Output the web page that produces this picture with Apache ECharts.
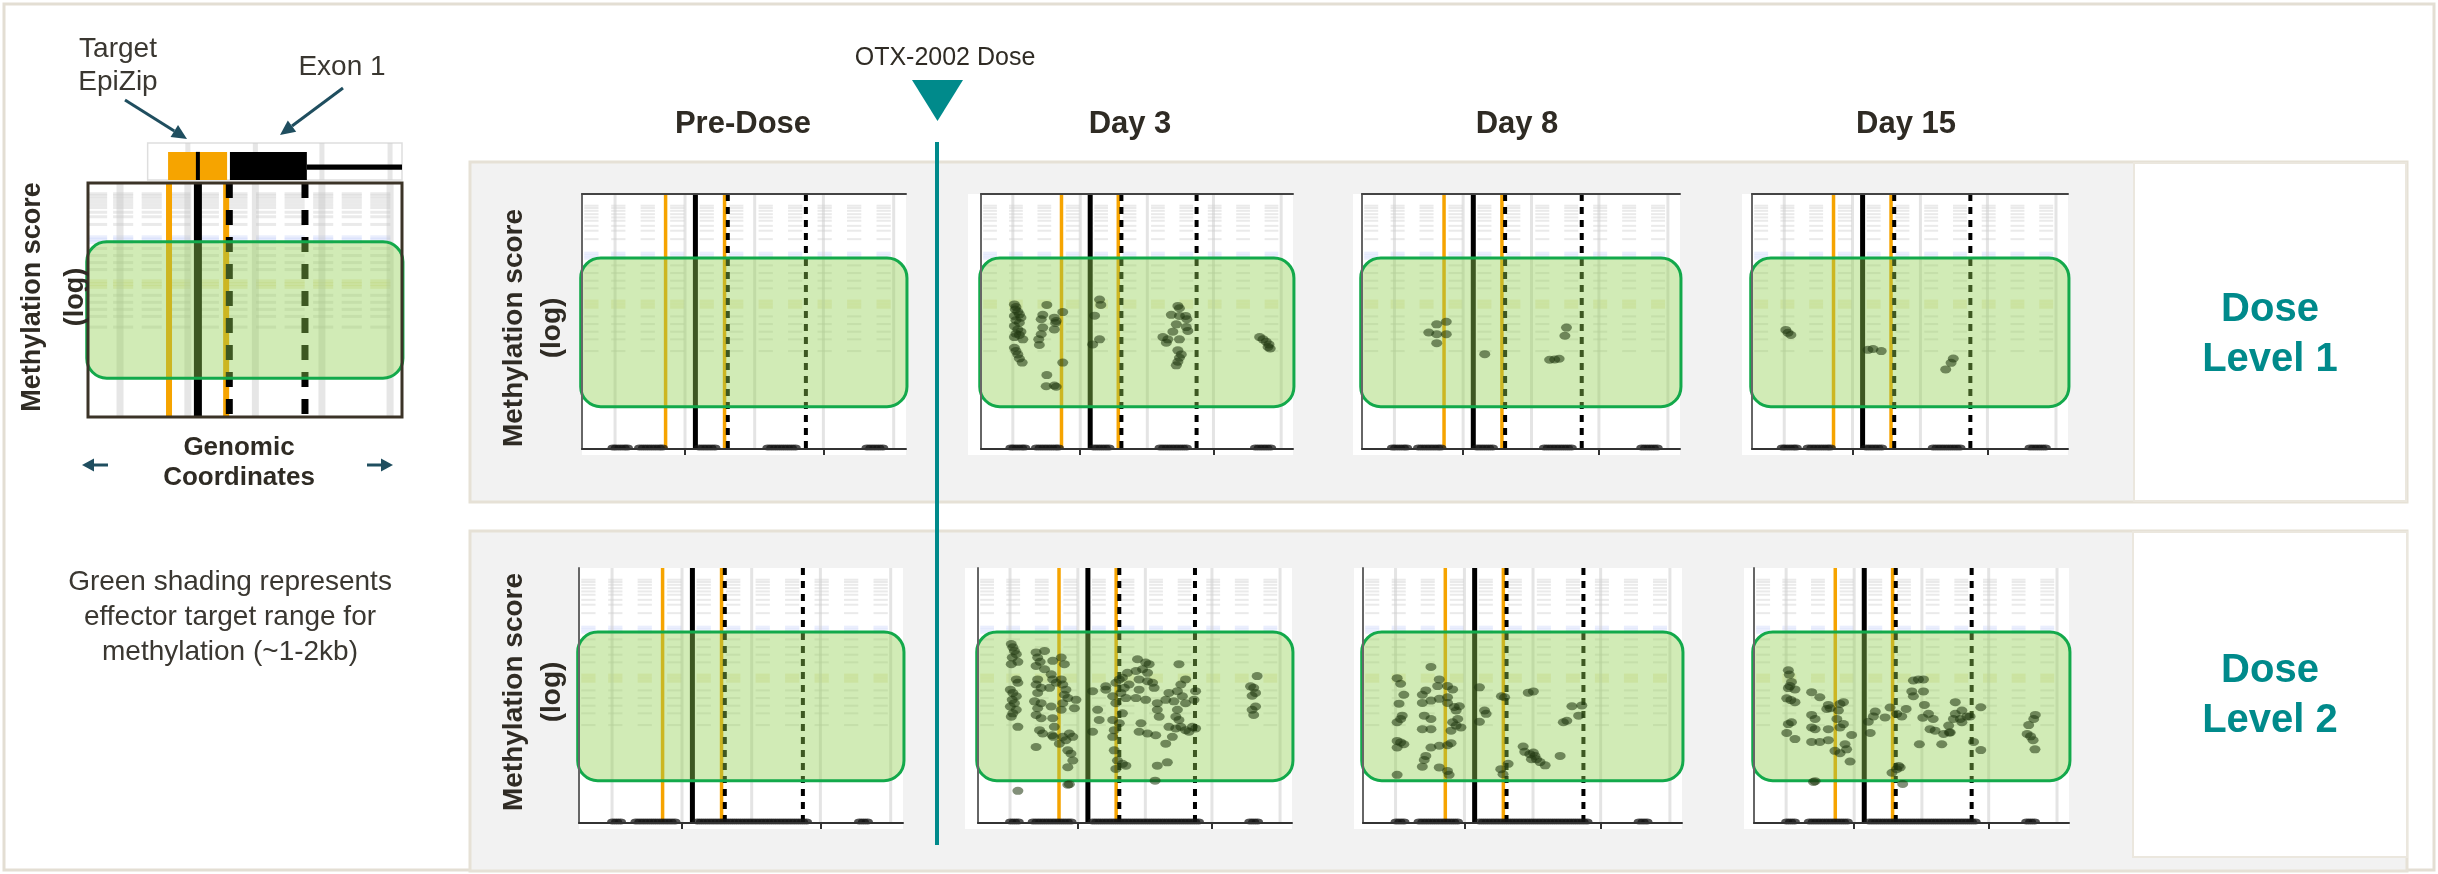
<!DOCTYPE html>
<html>
<head>
<meta charset="utf-8">
<script src="https://cdn.jsdelivr.net/npm/echarts@6/dist/echarts.min.js"></script>
<style>
  html, body { margin: 0; padding: 0; background: #fff; }
  #main { width: 2438px; height: 874px; }
</style>
</head>
<body>
<div id="main"></div>
<script>
// ---------------- data ----------------
const timepoints = ['Pre-Dose', 'Day 3', 'Day 8', 'Day 15'];
const doseLevels = ['Dose\nLevel 1', 'Dose\nLevel 2'];

// genomic window is expressed on a 0–100 scale
const gridlineX = [10.2, 31.8, 53.3, 74.5, 96.2];
const tickX = [31.8, 74.5];
const featureX = [25.8, 35.0, 44.0, 45.0, 69.1];
const featureKind = ['target', 'tss', 'target', 'exon', 'exon'];

// faded browser-track texture behind each panel (column centres, row levels)
const textureCols = [2.9, 11.2, 20.3, 29.4, 38.5, 47.6, 56.7, 65.8, 74.9, 84.0, 93.1];
const textureGrayRows = [95.4, 94.5, 93.4, 92.1, 90.8, 89.5, 87.5, 85.6, 82.3, 72.0, 69.0, 66.0, 63.0, 52.0, 49.0, 46.0, 43.0, 38.4];
const textureBlueRows = [76.8, 75.8, 74.8];
const textureTanRows = [58.0, 56.8, 55.6];

// gene track (schematic)
const trackSpan = [19, 100];
const targetBlock = [25.5, 44.3];
const exonBlock = [45.2, 69.7];
const intronSpan = [69.7, 100];
const tssX = 35.0;

// effector target range (shaded band), x0, y0, x1, y1
const shadeBand = [-0.4, 16.6, 100.3, 74.9];

// CpG sites with ~zero methylation (sit on the baseline)
const baseRow1 = [9.6, 10.6, 11.8, 13.0, 14.0, 17.8, 19.0, 20.2, 21.4, 22.6, 23.8, 24.8,
  36.2, 37.4, 38.6, 39.8, 41.0, 57.4, 58.6, 59.8, 61.0, 62.2, 63.4, 64.6, 65.8,
  88.0, 89.2, 90.4, 91.6, 92.8];
const baseRow2 = [10.4, 11.6, 12.8, 17.6, 18.8, 20.0, 21.2, 22.4, 23.6, 24.8, 26.0, 27.2, 28.4, 29.6,
  36.6, 37.8, 39.0, 40.2, 41.4, 42.6, 43.8, 45.0, 46.2, 47.4, 48.6, 49.8, 51.0, 52.2, 53.4,
  54.6, 55.8, 57.0, 58.2, 59.4, 60.6, 61.8, 63.0, 64.2, 65.4, 66.6, 67.8, 69.0, 70.2,
  86.6, 87.8, 89.0];

// methylation scores (log scale, 0–100) per CpG position
const l1Pre = [];
const l1Day3 = [[10.7,56.7],[11.2,55.7],[11.0,54.7],[11.8,53.9],[12.3,52.8],[10.7,52.2],[12.8,51.5],[11.2,50.5],[12.3,49.5],[10.7,48.2],[11.8,46.9],[12.8,46.0],[11.2,45.2],[12.3,44.7],[10.7,43.9],[13.4,43.0],[10.7,39.7],[11.2,38.4],[11.8,37.1],[12.3,35.5],[13.2,33.9],
  [21.1,56.5],[19.8,52.6],[19.3,50.9],[23.5,51.5],[24.1,50.2],[23.9,49.4],[19.8,47.6],[23.5,46.9],[19.3,45.0],[18.5,43.0],[18.7,40.8],[26.2,53.7],[26.2,33.9],[21.1,29.0],[20.9,24.6],[23.5,24.9],[24.1,24.4],
  [38.0,58.6],[38.4,56.5],[36.4,52.3],[38.0,43.0],[35.8,41.0],
  [63.1,56.1],[63.6,55.2],[61.0,52.6],[63.6,52.2],[65.6,52.2],[66.0,50.9],[62.6,48.9],[65.8,47.8],[66.3,46.3],[61.5,46.0],[58.3,43.9],[59.9,43.0],[63.6,43.0],[59.4,41.7],[63.1,38.7],[64.2,37.1],[63.6,35.8],[63.1,34.2],[62.6,32.8],
  [89.3,43.9],[90.4,43.0],[91.4,42.1],[92.3,41.0],[92.7,39.4],[92.0,40.0]];
const l1Day8 = [[26.5,49.9],[23.5,48.9],[21.0,45.7],[23.5,45.0],[26.5,45.0],[23.5,41.5],[38.6,37.2],[64.3,47.6],[63.8,44.4],[59.0,35.0],[60.6,35.1],[62.0,35.4]];
const l1Day15 = [[10.7,46.7],[11.4,45.6],[12.3,44.7],[36.7,38.9],[38.3,39.2],[40.9,38.4],[63.7,35.5],[63.0,33.8],[61.3,31.2]];

const l2Pre = [];
const l2Day3 = [[10.6,70.2],[11.1,68.9],[11.6,67.5],[12.2,66.2],[10.9,64.9],[12.7,63.2],[10.6,62.3],[12.2,56.3],[12.7,55.0],[10.3,52.3],[11.1,51.0],[12.2,49.7],[10.9,48.3],[11.6,47.0],[10.3,45.7],[12.2,44.4],[11.1,43.0],[10.6,41.7],[12.7,37.7],
  [18.5,66.9],[21.2,67.5],[19.0,64.9],[19.8,63.2],[18.5,61.6],[21.2,60.3],[19.0,56.3],[18.5,54.3],[20.1,53.0],[19.0,51.0],[18.0,47.7],[20.1,47.0],[19.0,45.0],[18.5,42.4],[20.1,41.1],[19.6,36.4],[20.6,35.1],[18.5,29.8],
  [23.8,63.6],[26.5,64.9],[27.5,62.3],[23.3,58.3],[23.8,56.3],[24.9,55.0],[22.8,53.0],[26.5,56.3],[27.0,54.3],[28.0,52.3],[27.5,50.3],[28.6,49.0],[27.0,47.0],[26.5,44.4],[23.3,45.7],[23.8,41.1],[24.3,37.7],[23.6,34.4],[24.0,33.8],[27.0,33.8],[28.0,32.5],[25.9,31.1],[29.1,35.1],[30.2,33.8],[28.6,28.5],[29.6,27.2],[30.2,24.5],[28.6,21.9],[31.2,48.3],[30.7,45.0],[29.1,15.2],
  [36.5,51.7],[40.7,53.6],[38.1,44.4],[38.6,40.4],[36.5,35.8],[40.7,52.3],[42.9,49.7],[43.9,55.0],[45.0,56.3],[46.0,57.0],[46.6,53.0],[45.5,51.0],[47.1,49.0],[43.9,47.0],[46.0,43.0],[42.9,40.4],[45.0,39.1],[43.4,36.4],[42.9,33.8],[43.4,28.5],[44.4,24.5],[46.0,23.2],[47.1,22.5],[43.9,21.2],[47.6,58.9],[48.1,54.3],
  [50.8,64.2],[53.4,62.9],[54.5,62.3],[52.4,60.3],[54.0,58.9],[50.3,59.6],[51.3,56.3],[54.0,55.6],[55.6,55.0],[56.1,53.0],[51.3,52.3],[50.3,49.0],[53.4,48.3],[57.1,47.0],[51.9,39.1],[51.3,35.8],[54.0,35.1],[56.6,34.4],[57.1,44.4],[57.7,41.7],[56.4,16.6],[57.1,22.5],
  [64.0,62.3],[66.1,56.3],[64.6,54.3],[63.5,51.7],[60.8,51.0],[59.8,48.3],[62.4,47.7],[65.1,49.7],[66.1,47.0],[63.5,44.4],[63.0,41.7],[64.0,40.4],[60.8,37.7],[63.0,37.1],[64.6,37.7],[66.1,36.4],[68.3,37.7],[69.3,37.1],[59.8,31.1],[60.3,23.8],[68.8,48.3],[69.3,51.7],[67.2,35.8],[61.9,33.8],
  [88.9,57.6],[86.8,53.6],[87.8,53.0],[88.4,51.0],[87.3,49.9],[88.4,45.7],[87.3,44.4],[87.8,42.4],
  [12.7,12.6],[28.6,15.0]];
const l2Day8 = [[21.3,61.2],[10.7,56.8],[11.8,54.6],[23.9,56.3],[26.5,53.7],[28.1,52.4],[23.4,53.7],[19.7,52.0],[18.6,50.3],[12.8,50.3],[23.9,48.7],[26.5,49.3],[21.3,48.0],[18.6,47.1],[11.3,46.8],[26.5,47.1],[28.6,45.5],[30.2,45.8],[29.2,44.1],[19.2,42.1],[21.3,40.8],[12.3,42.1],[10.7,39.5],[11.8,40.8],[29.7,40.8],[28.1,39.5],[29.2,38.2],[30.7,37.5],[27.6,36.2],[18.6,36.8],[21.3,36.8],[10.7,32.2],[11.8,31.6],[12.8,30.9],[10.7,29.6],[21.3,29.6],[23.9,30.3],[26.5,30.5],[27.6,31.3],[19.7,26.3],[19.2,24.7],[18.6,22.1],[23.9,21.8],[26.5,20.4],[27.0,18.9],[10.7,18.9],
  [36.5,53.2],[38.1,44.1],[38.6,42.8],[36.5,39.7],[43.4,49.7],[44.4,49.3],[43.2,21.1],[45.5,23.2],[43.9,19.1],
  [51.8,51.1],[53.4,51.6],[65.5,45.8],[68.6,46.1],[67.6,42.1],[63.9,40.1],[62.8,39.5],
  [50.2,30.0],[50.7,27.9],[52.3,27.0],[53.4,27.6],[53.9,26.3],[54.4,25.0],[52.8,25.0],[55.5,23.9],[57.1,22.6],[61.8,26.3]];
const l2Day15 = [[10.9,59.9],[11.2,58.2],[11.9,55.3],[10.9,52.9],[11.4,53.7],[13.0,52.4],[10.4,48.9],[11.7,48.2],[13.0,47.4],
  [18.3,51.3],[20.9,49.3],[23.6,46.3],[23.1,44.7],[24.2,45.0],[27.3,46.7],[28.4,47.4],[26.8,44.1],[18.3,42.4],[19.4,40.8],[18.3,37.5],[19.4,36.8],[23.6,36.8],[26.3,40.8],[28.4,38.8],[27.3,37.5],[31.0,34.5],
  [10.9,38.8],[11.9,39.5],[10.4,35.3],[13.0,32.9],[18.3,31.8],[20.9,31.8],[23.6,32.5],[25.7,28.3],[27.3,27.4],[28.9,30.9],[29.4,28.9],[30.5,24.1],[18.9,16.1],[19.4,16.4],
  [36.3,39.7],[36.9,35.3],[37.9,41.8],[38.5,43.7],[41.6,41.4],[43.2,45.3],[45.3,42.8],[46.9,41.8],[48.3,44.7],[43.8,19.7],[45.3,21.1],[46.4,21.8],[45.9,22.4],[47.2,15.3],
  [50.6,55.9],[52.2,56.3],[53.8,56.3],[50.1,51.6],[50.6,49.7],[53.8,51.6],[54.1,46.3],[53.6,41.3],[55.4,42.8],[56.9,40.8],[55.9,36.8],[57.5,36.2],[52.5,30.9],[59.6,30.9],[60.2,34.9],[62.0,35.5],[61.8,38.2],[63.3,40.8],[63.9,42.8],[66.0,44.1],[65.5,40.8],[66.0,39.5],[67.6,41.8],[68.6,41.8],[72.0,45.4],[69.7,31.8],[72.0,28.6],[63.9,47.4],[62.3,35.5],
  [89.3,42.4],[88.8,40.8],[87.2,38.4],[86.7,34.9],[87.8,34.0],[88.6,32.5],[89.2,28.9]];

const rowPoints = [[l1Pre, l1Day3, l1Day8, l1Day15], [l2Pre, l2Day3, l2Day8, l2Day15]];
const rowBaseline = [baseRow1, baseRow2];

// ---------------- layout ----------------
const FONT = '"Liberation Sans", Arial, Helvetica, sans-serif';
const INK = '#2f2b24';
const TEAL = '#008a8b';
const ARROW = '#1f4e5f';
const ORANGE = '#f6a400';

const schematicBox = { left: 88, top: 183, width: 314, height: 234 };
const trackBox = { left: 88, top: 143, width: 314, height: 37 };
const plotBoxes = [
  [[582, 194, 324, 255], [981, 194, 312, 255], [1362, 194, 318, 255], [1752, 194, 316, 255]],
  [[579, 568, 324, 255], [978, 568, 314, 255], [1363, 568, 319, 255], [1754, 568, 315, 255]]
];
const plotPadLeft = [0, 13, 9, 10];
const headerX = [743, 1130, 1517, 1906];
const panels = [[470, 162, 1937, 340], [470, 531, 1937, 340]];
const doseBoxes = [[2134, 163, 272, 338], [2133, 532, 274, 325]];

const grids = [], xAxes = [], yAxes = [], series = [];

function lineStyles(big) {
  return big ? {
    target: { stroke: ORANGE, lineWidth: 6 },
    tss: { stroke: '#000', lineWidth: 8 },
    exon: { stroke: '#000', lineWidth: 7, lineDash: [15, 12] },
    guide: { stroke: 'rgba(200,200,200,0.45)', lineWidth: 7 }
  } : {
    target: { stroke: ORANGE, lineWidth: 3.5 },
    tss: { stroke: '#000', lineWidth: 5 },
    exon: { stroke: '#000', lineWidth: 4, lineDash: [7, 6] },
    guide: { stroke: 'rgba(205,205,205,0.55)', lineWidth: 3 }
  };
}

function vLineRender(kindOf, styles) {
  return function (params, api) {
    const cs = params.coordSys;
    const x = api.coord([api.value(0), 0])[0];
    const st = styles[kindOf(params.dataIndex)];
    return {
      type: 'line',
      shape: { x1: x, y1: cs.y, x2: x, y2: cs.y + cs.height },
      style: Object.assign({ fill: null }, st)
    };
  };
}

function shadeRender(params, api) {
  const p0 = api.coord([api.value(0), api.value(3)]);
  const p1 = api.coord([api.value(2), api.value(1)]);
  return {
    type: 'rect',
    shape: { x: p0[0], y: p0[1], width: p1[0] - p0[0], height: p1[1] - p0[1], r: 20 },
    style: { fill: 'rgba(146,208,80,0.42)', stroke: '#13a94b', lineWidth: 3 }
  };
}

// short faded dashes in one texture column
function textureRender(halfWidth, thick) {
  return function (params, api) {
    const cx = api.value(0);
    const xa = api.coord([cx - halfWidth, 0])[0];
    const xb = api.coord([cx + halfWidth, 0])[0];
    const kids = [];
    const add = (rows, color, w) => rows.forEach(r => {
      const y = api.coord([cx, r])[1];
      kids.push({ type: 'line', shape: { x1: xa, y1: y, x2: xb, y2: y }, style: { stroke: color, lineWidth: w } });
    });
    add(textureGrayRows, 'rgba(190,190,190,0.32)', thick);
    add(textureBlueRows, 'rgba(196,206,250,0.35)', thick + 1);
    add(textureTanRows, 'rgba(226,214,150,0.35)', thick + 1);
    return { type: 'group', children: kids };
  };
}

function addPlotLayers(gi, big) {
  const st = lineStyles(big);
  series.push({
    type: 'custom', coordinateSystem: 'cartesian2d', xAxisIndex: gi, yAxisIndex: gi, z: 9, silent: true,
    renderItem: textureRender(big ? 3.2 : 2.2, big ? 3 : 2), data: textureCols.map(v => [v, 0])
  });
  series.push({
    type: 'custom', coordinateSystem: 'cartesian2d', xAxisIndex: gi, yAxisIndex: gi, z: 10, silent: true,
    renderItem: vLineRender(() => 'guide', st), data: gridlineX.map(v => [v, 0])
  });
  series.push({
    type: 'custom', coordinateSystem: 'cartesian2d', xAxisIndex: gi, yAxisIndex: gi, z: 11, silent: true,
    renderItem: vLineRender(i => featureKind[i], st), data: featureX.map(v => [v, 0])
  });
  series.push({
    type: 'custom', coordinateSystem: 'cartesian2d', xAxisIndex: gi, yAxisIndex: gi, z: 12, silent: true,
    renderItem: shadeRender, data: [shadeBand]
  });
}

// --- schematic (grid 0) ---
grids.push(Object.assign({ show: true, borderColor: '#3b3327', borderWidth: 3, backgroundColor: 'transparent', z: 14 }, schematicBox));
xAxes.push({ gridIndex: 0, type: 'value', min: 0, max: 100, show: false });
yAxes.push({ gridIndex: 0, type: 'value', min: 0, max: 100, show: false });
addPlotLayers(0, true);

// --- gene track (grid 1) ---
grids.push(Object.assign({ show: false }, trackBox));
xAxes.push({ gridIndex: 1, type: 'value', min: 0, max: 100, show: false });
yAxes.push({ gridIndex: 1, type: 'value', min: 0, max: 1, show: false });
const trackItems = [
  [trackSpan[0], trackSpan[1], 0, 1, 'box'],
  [targetBlock[0], targetBlock[1], 0, 0.76, 'target'],
  [exonBlock[0], exonBlock[1], 0, 0.76, 'exon'],
  [intronSpan[0], intronSpan[1], 0.28, 0.42, 'intron'],
  [tssX, tssX, 0, 0.76, 'tss']
];
series.push({
  type: 'custom', coordinateSystem: 'cartesian2d', xAxisIndex: 1, yAxisIndex: 1, z: 11, silent: true,
  data: trackItems.map(d => d.slice(0, 4)),
  renderItem: function (params, api) {
    const kind = trackItems[params.dataIndex][4];
    const p0 = api.coord([api.value(0), api.value(3)]);
    const p1 = api.coord([api.value(1), api.value(2)]);
    if (kind === 'tss') {
      return { type: 'line', shape: { x1: p0[0], y1: p0[1], x2: p0[0], y2: p1[1] }, style: { stroke: '#000', lineWidth: 4 } };
    }
    const fills = { box: '#fff', target: ORANGE, exon: '#000', intron: '#000' };
    const shape = { x: p0[0], y: p0[1], width: p1[0] - p0[0], height: p1[1] - p0[1] };
    const style = { fill: fills[kind] };
    if (kind === 'box') { style.stroke = '#dedede'; style.lineWidth = 1.5; }
    const el = { type: 'rect', shape: shape, style: style };
    if (kind === 'box') {
      const gl = gridlineX.filter(v => v > trackSpan[0]).map(v => {
        const x = api.coord([v, 0])[0];
        return { type: 'line', shape: { x1: x, y1: p0[1], x2: x, y2: p1[1] }, style: { stroke: 'rgba(205,205,205,0.5)', lineWidth: 5 } };
      });
      return { type: 'group', children: [el].concat(gl) };
    }
    return el;
  }
});

// --- small plots (grids 2..9) ---
const topAxisIndex = [];
plotBoxes.forEach((row, r) => {
  row.forEach((b, c) => {
    const gi = grids.length;
    grids.push({ left: b[0], top: b[1], width: b[2], height: b[3], show: false });
    xAxes[gi] = {
      gridIndex: gi, type: 'value', min: 0, max: 100, position: 'bottom', z: 14,
      axisLine: { show: true, onZero: false, lineStyle: { color: '#333', width: 2 } },
      axisTick: { show: true, customValues: tickX, length: 6, lineStyle: { color: '#333', width: 2 } },
      axisLabel: { show: false }, splitLine: { show: false }
    };
    yAxes[gi] = {
      gridIndex: gi, type: 'value', min: 0, max: 100, z: 14,
      axisLine: { show: true, onZero: false, lineStyle: { color: '#666', width: 2 } },
      axisTick: { show: false }, axisLabel: { show: false }, splitLine: { show: false }
    };
    addPlotLayers(gi, false);
    series.push({
      type: 'scatter', xAxisIndex: gi, yAxisIndex: gi, z: 13, silent: true,
      symbol: 'circle', symbolSize: [11, 6],
      itemStyle: { color: 'rgba(20,20,20,0.92)' },
      data: rowBaseline[r].map(x => [x, 0.6])
    });
    series.push({
      type: 'scatter', xAxisIndex: gi, yAxisIndex: gi, z: 13, silent: true,
      symbol: 'circle', symbolSize: [11, 8],
      itemStyle: { color: 'rgba(32,56,16,0.7)' },
      data: rowPoints[r][c]
    });
    if (r === 0) topAxisIndex.push(gi);
  });
});
// closing top frame line on the first row of plots
topAxisIndex.forEach(gi => {
  xAxes.push({
    gridIndex: gi, type: 'value', min: 0, max: 100, position: 'top', z: 14,
    axisLine: { show: true, onZero: false, lineStyle: { color: '#444', width: 2 } },
    axisTick: { show: false }, axisLabel: { show: false }, splitLine: { show: false }
  });
});

// ---------------- annotations ----------------
function txt(text, x, y, size, weight, color, extra) {
  extra = extra || {};
  return {
    type: 'text', z: 20, x: x, y: y, rotation: extra.rotation || 0, silent: true,
    style: {
      text: text, fill: color,
      font: weight + ' ' + size + 'px ' + FONT,
      align: 'center', verticalAlign: 'middle',
      textAlign: 'center', textVerticalAlign: 'middle',
      lineHeight: extra.lineHeight || Math.round(size * 1.2)
    }
  };
}
function arrow(x1, y1, x2, y2, color, lw, headLen, headW) {
  const a = Math.atan2(y2 - y1, x2 - x1);
  const bx = x2 - headLen * Math.cos(a), by = y2 - headLen * Math.sin(a);
  const px = -Math.sin(a) * headW / 2, py = Math.cos(a) * headW / 2;
  return [
    { type: 'line', z: 20, silent: true, shape: { x1: x1, y1: y1, x2: bx, y2: by }, style: { stroke: color, lineWidth: lw } },
    { type: 'polygon', z: 20, silent: true, shape: { points: [[x2, y2], [bx + px, by + py], [bx - px, by - py]] }, style: { fill: color } }
  ];
}

const graphics = [];
graphics.push({ type: 'rect', z: 1, silent: true, shape: { x: 4, y: 4, width: 2430, height: 866 }, style: { fill: '#fff', stroke: '#e3ded3', lineWidth: 3 } });
panels.forEach(p => graphics.push({ type: 'rect', z: 2, silent: true, shape: { x: p[0], y: p[1], width: p[2], height: p[3] }, style: { fill: '#f2f2f2', stroke: '#e6e1d6', lineWidth: 3 } }));
doseBoxes.forEach(p => graphics.push({ type: 'rect', z: 3, silent: true, shape: { x: p[0], y: p[1], width: p[2], height: p[3] }, style: { fill: '#fff', stroke: '#ebe7de', lineWidth: 2 } }));
plotBoxes.forEach(row => row.forEach((b, c) => {
  graphics.push({ type: 'rect', z: 3, silent: true, shape: { x: b[0] - plotPadLeft[c], y: b[1], width: b[2] + plotPadLeft[c], height: b[3] + 6 }, style: { fill: '#fff' } });
}));

// header row
timepoints.forEach((t, i) => graphics.push(txt(t, headerX[i], 124, 31, 'bold', INK)));
graphics.push(txt('OTX-2002 Dose', 945, 58, 25, 'normal', INK));
graphics.push({ type: 'polygon', z: 20, silent: true, shape: { points: [[912, 80], [963, 80], [937.5, 121]] }, style: { fill: TEAL } });
graphics.push({ type: 'line', z: 20, silent: true, shape: { x1: 937, y1: 142, x2: 937, y2: 845 }, style: { stroke: TEAL, lineWidth: 4 } });

// row labels
doseLevels.forEach((t, i) => graphics.push(txt(t, 2270, i === 0 ? 335 : 696, 40, 'bold', TEAL, { lineHeight: 50 })));
[328, 692].forEach(y => graphics.push(txt('Methylation score\n(log)', 533, y, 28, 'bold', INK, { rotation: Math.PI / 2, lineHeight: 38 })));

// schematic legend
graphics.push(txt('Target\nEpiZip', 118, 66, 28, 'normal', '#3a3731', { lineHeight: 33 }));
graphics.push(txt('Exon 1', 342, 67, 28, 'normal', '#3a3731'));
graphics.push.apply(graphics, arrow(125, 100, 187, 139, ARROW, 3, 15, 14));
graphics.push.apply(graphics, arrow(343, 88, 280, 135, ARROW, 3, 15, 14));
graphics.push(txt('Methylation score\n(log)', 54, 297, 27, 'bold', INK, { rotation: Math.PI / 2, lineHeight: 43 }));
graphics.push(txt('Genomic\nCoordinates', 239, 463, 26, 'bold', INK, { lineHeight: 30 }));
graphics.push.apply(graphics, arrow(108, 465, 82, 465, ARROW, 3, 12, 13));
graphics.push.apply(graphics, arrow(367, 465, 393, 465, ARROW, 3, 12, 13));
graphics.push(txt('Green shading represents\neffector target range for\nmethylation (~1-2kb)', 230, 617, 28, 'normal', '#3a3731', { lineHeight: 35 }));

const chart = echarts.init(document.getElementById('main'), null, { renderer: 'canvas' });
chart.setOption({
  animation: false,
  backgroundColor: '#ffffff',
  grid: grids,
  xAxis: xAxes,
  yAxis: yAxes,
  series: series,
  graphic: { elements: graphics }
});
</script>
</body>
</html>
